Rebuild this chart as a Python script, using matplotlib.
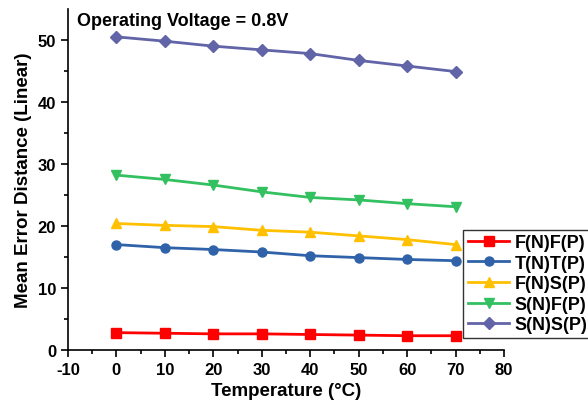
import numpy as np
import matplotlib.pyplot as plt

plt.rcParams['font.family'] = ['Liberation Sans', 'DejaVu Sans']
plt.rcParams['font.weight'] = 'bold'
plt.rcParams['axes.unicode_minus'] = False

temps = [0, 10, 20, 30, 40, 50, 60, 70]

ff = [2.8, 2.7, 2.6, 2.6, 2.5, 2.4, 2.3, 2.3]
tt = [17.0, 16.5, 16.2, 15.8, 15.2, 14.9, 14.6, 14.4]
fs = [20.4, 20.1, 19.9, 19.3, 19.0, 18.4, 17.8, 17.0]
sf = [28.2, 27.5, 26.6, 25.5, 24.6, 24.2, 23.6, 23.1]
ss = [50.5, 49.8, 49.0, 48.4, 47.8, 46.7, 45.8, 44.9]

series = [
    ("F(N)F(P)", ff, '#ff0000', 's'),
    ("T(N)T(P)", tt, '#2f62a8', 'o'),
    ("F(N)S(P)", fs, '#ffc000', '^'),
    ("S(N)F(P)", sf, '#33c060', 'v'),
    ("S(N)S(P)", ss, '#6264a8', 'D'),
]

fig = plt.figure(figsize=(5.88, 4.06), dpi=100)
ax = fig.add_axes([0.1156, 0.1355, 0.7415, 0.84])

for name, vals, col, mk in series:
    ax.plot(temps, vals, color=col, marker=mk, markersize=6.5, linewidth=2, label=name)

ax.set_xlim(-10, 80)
ax.set_ylim(0, 55)
ax.set_xticks(np.arange(-10, 81, 10))
ax.set_xticks(np.arange(-5, 80, 10), minor=True)
ax.set_yticks(np.arange(0, 51, 10))
ax.set_yticks(np.arange(5, 55, 10), minor=True)
ax.tick_params(which='major', direction='out', length=5, width=1.2, labelsize=12)
ax.tick_params(which='minor', direction='out', length=3, width=1.2)
for lab in ax.get_xticklabels() + ax.get_yticklabels():
    lab.set_fontweight('bold')
ax.spines['top'].set_visible(False)
ax.spines['right'].set_visible(False)
ax.spines['left'].set_linewidth(1.2)
ax.spines['bottom'].set_linewidth(1.2)

ax.set_xlabel("Temperature (\u00b0C)", fontsize=13.5, fontweight='bold')
ax.set_ylabel("Mean Error Distance (Linear)", fontsize=13.5, fontweight='bold')

ax.text(0.02, 0.99, "Operating Voltage = 0.8V", transform=ax.transAxes,
        fontsize=13, fontweight='bold', ha='left', va='top')

# legend sits partly outside the plot area, pushed against the right edge
leg = fig.legend(loc='lower left', bbox_to_anchor=(0.788, 0.165), frameon=True,
                 fancybox=False, edgecolor='black', fontsize=13,
                 handlelength=2.3, borderaxespad=0, labelspacing=0.2,
                 borderpad=0.25, handletextpad=0.3)
leg.get_frame().set_linewidth(1.0)
for t in leg.get_texts():
    t.set_fontweight('bold')

fig.savefig("out.png", dpi=100)
